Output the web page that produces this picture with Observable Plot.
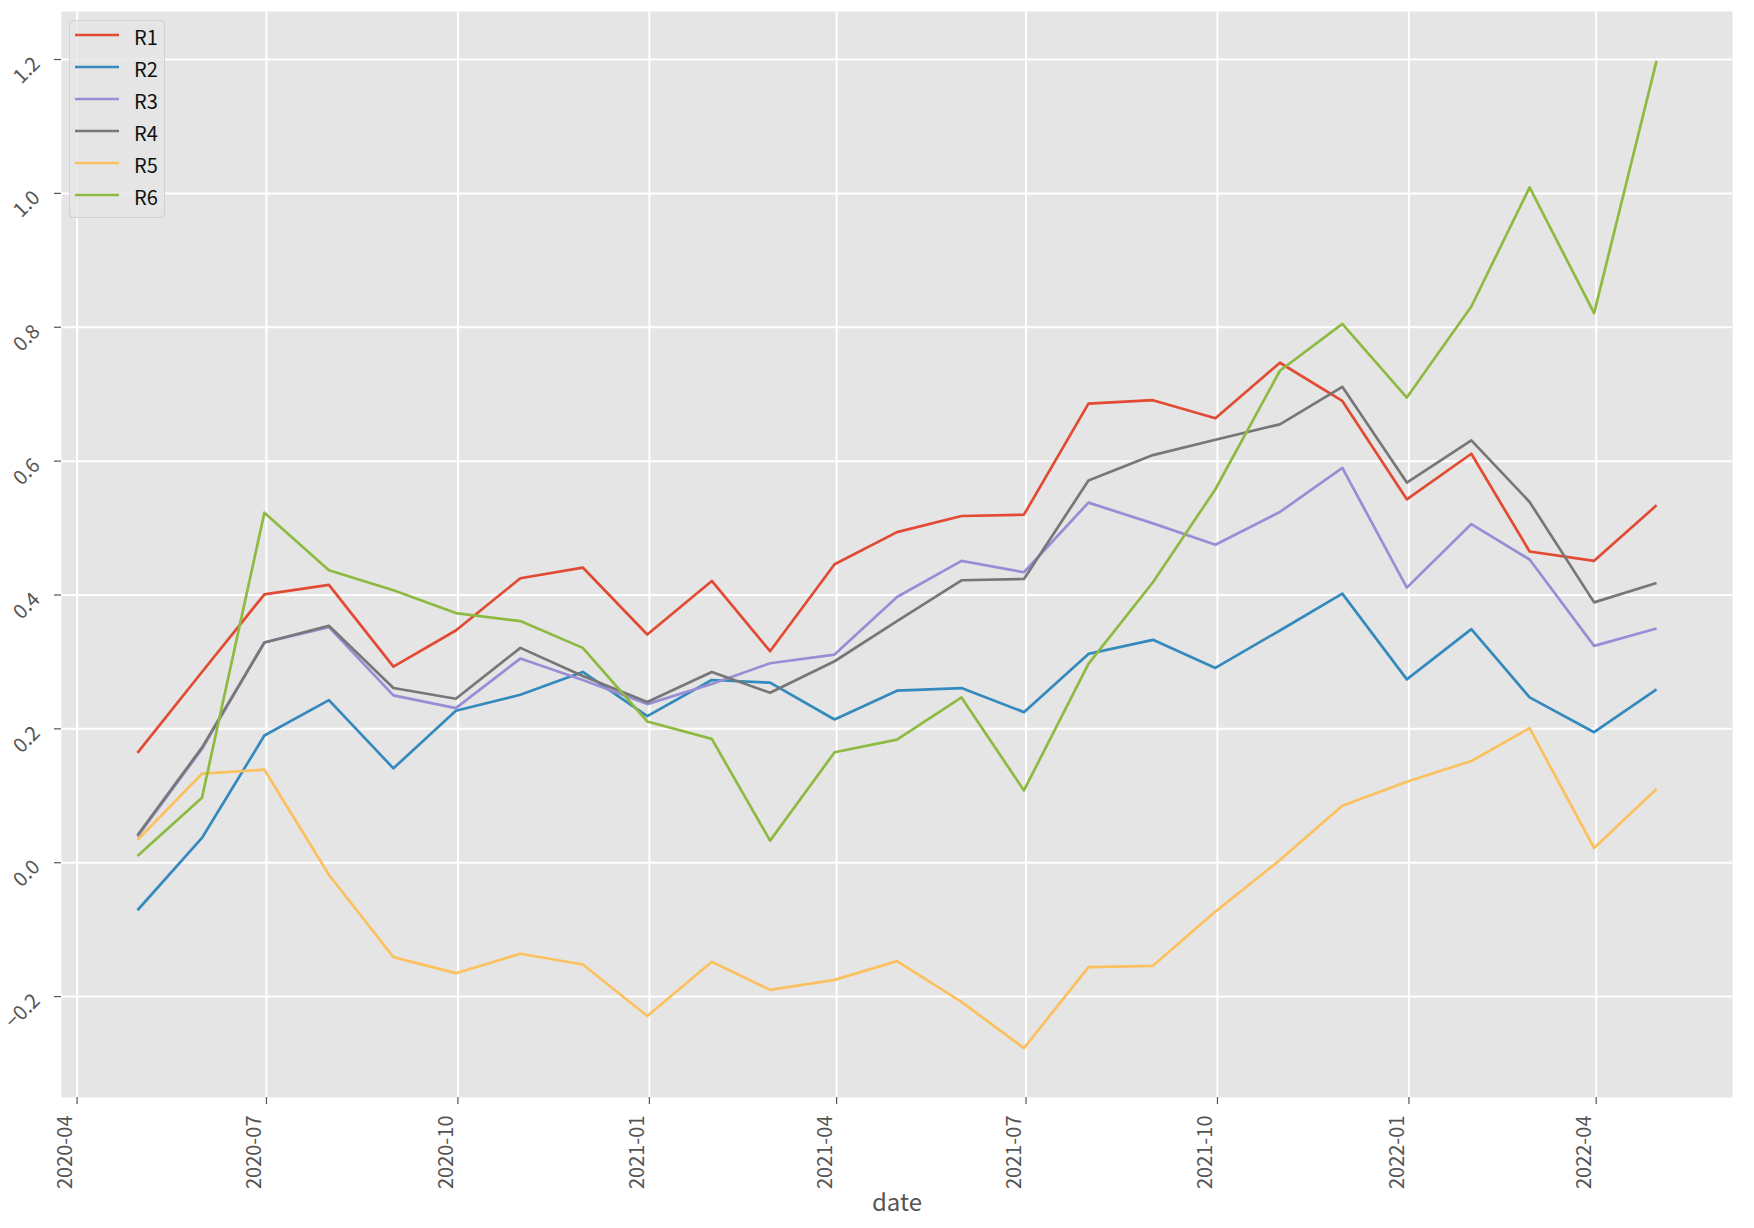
<!DOCTYPE html>
<html>
<head>
<meta charset="utf-8">
<script src="https://cdn.jsdelivr.net/npm/d3@7"></script>
<script src="https://cdn.jsdelivr.net/npm/@observablehq/plot@0.6"></script>
<style>
  body { margin: 0; background: #ffffff; }
  #wrap { position: relative; width: 1754px; height: 1228px; font-family: "Noto Sans CJK JP", "Noto Sans", sans-serif; }
  #legend { position: absolute; left: 69px; top: 20px; width: 96px; height: 198px; box-sizing: border-box;
            background: rgba(229,229,229,0.8); border: 1px solid rgba(204,204,204,0.8); border-radius: 4px; }
</style>
</head>
<body>
<div id="wrap"><div id="plot"></div><div id="legend"></div></div>
<script>
// ---- data (month-end observations) ----
const dates = ["2020-04-30","2020-05-31","2020-06-30","2020-07-31","2020-08-31","2020-09-30","2020-10-31","2020-11-30","2020-12-31",
               "2021-01-31","2021-02-28","2021-03-31","2021-04-30","2021-05-31","2021-06-30","2021-07-31","2021-08-31","2021-09-30",
               "2021-10-31","2021-11-30","2021-12-31","2022-01-31","2022-02-28","2022-03-31","2022-04-30"];
const seriesNames = ["R1","R2","R3","R4","R5","R6"];
const R1 = [0.164,0.285,0.401,0.415,0.293,0.347,0.425,0.441,0.341,0.421,0.316,0.446,0.494,0.518,0.520,0.686,0.691,0.664,0.747,0.690,0.543,0.611,0.465,0.451,0.534];
const R2 = [-0.071,0.037,0.190,0.243,0.141,0.227,0.251,0.285,0.219,0.273,0.269,0.214,0.257,0.261,0.225,0.312,0.333,0.291,0.347,0.402,0.274,0.349,0.247,0.195,0.259];
const R3 = [0.039,0.170,0.329,0.352,0.250,0.231,0.305,0.273,0.237,0.267,0.298,0.311,0.397,0.451,0.434,0.538,0.507,0.475,0.524,0.590,0.411,0.506,0.453,0.324,0.350];
const R4 = [0.041,0.172,0.329,0.354,0.261,0.245,0.321,0.279,0.240,0.285,0.254,0.301,0.361,0.422,0.424,0.571,0.609,0.632,0.655,0.711,0.568,0.631,0.539,0.389,0.418];
const R5 = [0.034,0.133,0.139,-0.018,-0.141,-0.165,-0.136,-0.152,-0.229,-0.148,-0.190,-0.175,-0.147,-0.208,-0.277,-0.156,-0.154,-0.073,0.004,0.085,0.121,0.152,0.201,0.022,0.110];
const R6 = [0.010,0.097,0.523,0.437,0.407,0.373,0.361,0.321,0.211,0.185,0.033,0.165,0.184,0.247,0.108,0.297,0.419,0.558,0.735,0.805,0.695,0.831,1.009,0.821,1.198];
const seriesValues = [R1, R2, R3, R4, R5, R6];
const colors = ["#E24A33","#348ABD","#988ED5","#777777","#FBC15E","#8EBA42"];

const xTickLabels = ["2020-04","2020-07","2020-10","2021-01","2021-04","2021-07","2021-10","2022-01","2022-04"];
const yTicks = [-0.2, 0.0, 0.2, 0.4, 0.6, 0.8, 1.0, 1.2];
const yTickLabels = ["\u22120.2","0.0","0.2","0.4","0.6","0.8","1.0","1.2"];
const xLabel = "date";

// ---- build table ----
const table = [];
seriesNames.forEach((s, k) => {
  seriesValues[k].forEach((v, i) => table.push({series: s, date: new Date(dates[i]), value: v}));
});
const xTicks = xTickLabels.map(t => new Date(t + "-01"));

// matplotlib-like 5% margins
const xExt = d3.extent(table, d => d.date);
const xPad = (xExt[1] - xExt[0]) * 0.05;
const xDomain = [new Date(+xExt[0] - xPad), new Date(+xExt[1] + xPad)];
const yExt = d3.extent(table, d => d.value);
const yPad = (yExt[1] - yExt[0]) * 0.05;
const yDomain = [yExt[0] - yPad, yExt[1] + yPad];

const font = "'Noto Sans CJK JP', 'Noto Sans', sans-serif";

const chart = Plot.plot({
  width: 1754,
  height: 1228,
  marginLeft: 61,
  marginRight: 22,
  marginTop: 11,
  marginBottom: 131,
  style: {fontFamily: font, background: "#ffffff", overflow: "visible"},
  x: {type: "utc", domain: xDomain, axis: null},
  y: {domain: yDomain, axis: null},
  color: {domain: seriesNames, range: colors},
  marks: [
    Plot.frame({fill: "#E5E5E5", stroke: null}),
    Plot.gridX(xTicks, {stroke: "#ffffff", strokeOpacity: 1, strokeWidth: 2}),
    Plot.gridY(yTicks, {stroke: "#ffffff", strokeOpacity: 1, strokeWidth: 2}),
    Plot.axisX(xTicks, {tickSize: 7, stroke: "#555555", strokeWidth: 1.2, fill: "none", label: null}),
    Plot.axisY(yTicks, {tickSize: 7, stroke: "#555555", strokeWidth: 1.2, fill: "none", label: null}),
    Plot.text(xTicks, {x: d => d, text: (d, i) => xTickLabels[i], frameAnchor: "bottom", rotate: -90,
                       textAnchor: "end", dy: 18, dx: -5, fontSize: 20, fill: "#555555"}),
    Plot.text(yTicks, {y: d => d, text: (d, i) => yTickLabels[i], frameAnchor: "left", rotate: -45,
                       textAnchor: "end", dx: -25, dy: 1, fontSize: 20, fill: "#555555"}),
    Plot.text([xLabel], {text: d => d, frameAnchor: "bottom", dy: 113, fontSize: 24, fill: "#555555"}),
    Plot.line(table, {x: "date", y: "value", z: "series", stroke: "series", strokeWidth: 2.7,
                      strokeLinejoin: "round", strokeLinecap: "butt"})
  ]
});
document.getElementById("plot").appendChild(chart);

// ---- legend (inside the axes, upper left) ----
const lg = d3.select("#legend").append("svg").attr("width", 96).attr("height", 198)
  .style("position", "absolute").style("left", "-1px").style("top", "-1px");
seriesNames.forEach((s, k) => {
  const y = 15 + k * 32;
  lg.append("line").attr("x1", 6).attr("x2", 50).attr("y1", y).attr("y2", y)
    .attr("stroke", colors[k]).attr("stroke-width", 2.7);
  lg.append("text").attr("x", 65).attr("y", y + 3).attr("dy", "0.35em")
    .attr("font-family", font).attr("font-size", 20).attr("fill", "#111111").text(s);
});
</script>
</body>
</html>
